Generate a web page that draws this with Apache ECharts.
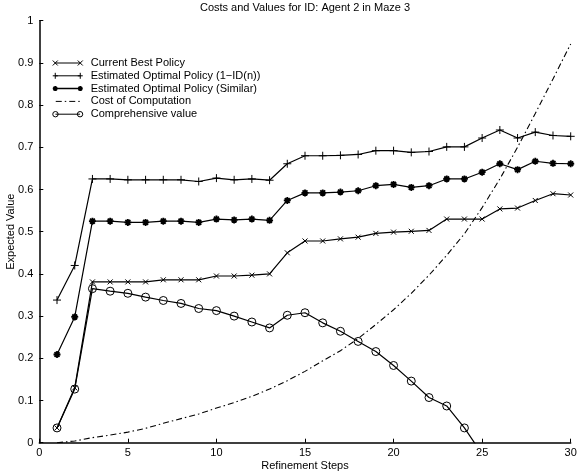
<!DOCTYPE html>
<html>
<head>
<meta charset="utf-8">
<script src="https://cdn.jsdelivr.net/npm/echarts@6/dist/echarts.min.js"></script>
<style>
html,body{margin:0;padding:0;background:#fff;}
#chart{width:580px;height:474px;}
</style>
</head>
<body>
<div id="chart"></div>
<script>
var titleText = 'Costs and Values for ID: Agent 2 in Maze 3';
var xName = 'Refinement Steps';
var yName = 'Expected Value';
var seriesNames = ['Current Best Policy', 'Estimated Optimal Policy (1\u2212ID(n))', 'Estimated Optimal Policy (Similar)', 'Cost of Computation', 'Comprehensive value'];

var steps = [1,2,3,4,5,6,7,8,9,10,11,12,13,14,15,16,17,18,19,20,21,22,23,24,25,26,27,28,29,30];

var currentBest = [0.035,0.130,0.381,0.381,0.381,0.381,0.386,0.386,0.386,0.395,0.395,0.397,0.400,0.450,0.478,0.478,0.483,0.487,0.496,0.499,0.501,0.503,0.530,0.530,0.530,0.554,0.556,0.574,0.590,0.587];
var optimalID = [0.338,0.420,0.625,0.625,0.623,0.623,0.623,0.623,0.619,0.627,0.623,0.625,0.622,0.661,0.680,0.680,0.681,0.683,0.692,0.692,0.688,0.690,0.701,0.701,0.722,0.741,0.722,0.736,0.728,0.726];
var optimalSimilar = [0.209,0.298,0.525,0.525,0.522,0.522,0.525,0.525,0.522,0.530,0.528,0.530,0.527,0.574,0.592,0.592,0.594,0.597,0.609,0.612,0.605,0.609,0.625,0.625,0.641,0.661,0.647,0.667,0.662,0.661];
var costComputation = [0.000,0.004,0.012,0.018,0.025,0.034,0.046,0.057,0.068,0.082,0.095,0.110,0.127,0.147,0.169,0.194,0.218,0.247,0.280,0.315,0.354,0.397,0.444,0.495,0.557,0.625,0.700,0.780,0.862,0.945];
var comprehensive = [0.035,0.127,0.365,0.359,0.354,0.345,0.337,0.330,0.318,0.313,0.300,0.286,0.272,0.302,0.308,0.284,0.264,0.240,0.216,0.183,0.146,0.107,0.087,0.035,-0.027];

function pairs(vals){ return vals.map(function(v,i){ return [steps[i], v]; }); }

var symX = 'path://M0,0L10,10M0,10L10,0';
var symPlus = 'path://M5,0L5,10M0,5L10,5';
var symStar = 'path://M0,5L10,5M5,0L5,10M1.5,1.5L8.5,8.5M1.5,8.5L8.5,1.5';

var legX = 'path://M0,0.5L5,5.5M0,5.5L5,0.5M2.5,3L27.5,3M25,0.5L30,5.5M25,5.5L30,0.5M0,0L0.01,0M0,6L0.01,6';
var legPlus = 'path://M2.5,0L2.5,6M0,3L5,3M2.5,3L27.5,3M27.5,0L27.5,6M25,3L30,3';
var legStar = 'path://M0,3L5,3M2.5,0.5L2.5,5.5M0.7,1.2L4.3,4.8M0.7,4.8L4.3,1.2M2.5,3L27.5,3M25,3L30,3M27.5,0.5L27.5,5.5M25.7,1.2L29.3,4.8M25.7,4.8L29.3,1.2M0,0L0.01,0M0,6L0.01,6';
var legDash = 'path://M2,3L28,3M0,0L0.01,0M0,6L0.01,6';
var legCirc = 'path://M0,3A2.7,2.7 0 1,0 5.4,3A2.7,2.7 0 1,0 0,3M2.7,3L27.3,3M24.6,3A2.7,2.7 0 1,0 30,3A2.7,2.7 0 1,0 24.6,3';

var font = 'Liberation Sans, Arial, Helvetica, sans-serif';
var markStyle = {color:'transparent', borderColor:'#000', borderWidth:1};

var chart = echarts.init(document.getElementById('chart'), null, {renderer:'canvas'});
chart.setOption({
  animation: false,
  backgroundColor: '#fff',
  title: {
    text: titleText, left: 305, top: 2, textAlign: 'center', padding: 0,
    textStyle: {fontFamily: font, fontSize: 11, fontWeight: 'normal', color: '#000'}
  },
  legend: {
    left: 52, top: 57, orient: 'vertical', itemWidth: 30, itemHeight: 6, itemGap: 0.8, padding: 0,
    selectedMode: false,
    textStyle: {fontFamily: font, fontSize: 11, color: '#000', lineHeight: 12, padding: [0,0,0,3]},
    data: [
      {name: seriesNames[0], icon: legX, itemStyle: markStyle},
      {name: seriesNames[1], icon: legPlus, itemStyle: markStyle},
      {name: seriesNames[2], icon: legStar, itemStyle: {color:'transparent', borderColor:'#000', borderWidth:1.5}},
      {name: seriesNames[3], icon: legDash, itemStyle: {color:'transparent', borderColor:'#000', borderWidth:1, borderType:[6,3,1.5,3]}},
      {name: seriesNames[4], icon: legCirc, itemStyle: markStyle}
    ]
  },
  grid: {left: 39.3, right: 9.3, top: 20.7, bottom: 31.3, containLabel: false, outerBoundsMode: 'none'},
  xAxis: {
    type: 'value', min: 0, max: 30, interval: 5,
    name: xName, nameLocation: 'middle', nameGap: 18, nameMoveOverlap: false,
    nameTextStyle: {fontFamily: font, fontSize: 11, color: '#000'},
    axisLine: {lineStyle: {color: '#000', width: 1.5}},
    axisTick: {inside: true, length: 4, lineStyle: {color: '#000'}},
    axisLabel: {fontFamily: font, fontSize: 11, color: '#000', margin: 5},
    splitLine: {show: false}
  },
  yAxis: {
    type: 'value', min: 0, max: 1, interval: 0.1,
    name: yName, nameLocation: 'middle', nameGap: 23, nameRotate: 90, nameMoveOverlap: false,
    nameTextStyle: {fontFamily: font, fontSize: 11, color: '#000'},
    axisLine: {show: true, lineStyle: {color: '#000', width: 1.5}},
    axisTick: {show: true, inside: true, length: 4, lineStyle: {color: '#000'}},
    axisLabel: {fontFamily: font, fontSize: 11, color: '#000', margin: 6},
    splitLine: {show: false}
  },
  series: [
    {name: seriesNames[0], type: 'line', data: pairs(currentBest), symbol: symX, symbolSize: 5,
     itemStyle: markStyle, lineStyle: {color: '#000', width: 1.2}, emphasis: {disabled: true}, z: 3},
    {name: seriesNames[1], type: 'line', data: pairs(optimalID), symbol: symPlus, symbolSize: 8,
     itemStyle: markStyle, lineStyle: {color: '#000', width: 1.2}, emphasis: {disabled: true}, z: 3},
    {name: seriesNames[2], type: 'line', data: pairs(optimalSimilar), symbol: symStar, symbolSize: 7,
     itemStyle: {color:'transparent', borderColor:'#000', borderWidth:1.8}, lineStyle: {color: '#000', width: 1.2}, emphasis: {disabled: true}, z: 3},
    {name: seriesNames[3], type: 'line', data: pairs(costComputation), symbol: 'none', showSymbol: false,
     itemStyle: {color:'#000'}, lineStyle: {color: '#000', width: 1.1, type: [6,3,1.5,3]}, emphasis: {disabled: true}, z: 2},
    {name: seriesNames[4], type: 'line', data: pairs(comprehensive), symbol: 'circle', symbolSize: 8,
     itemStyle: markStyle, lineStyle: {color: '#000', width: 1.2}, emphasis: {disabled: true}, z: 3, clip: true}
  ]
});
</script>
</body>
</html>
